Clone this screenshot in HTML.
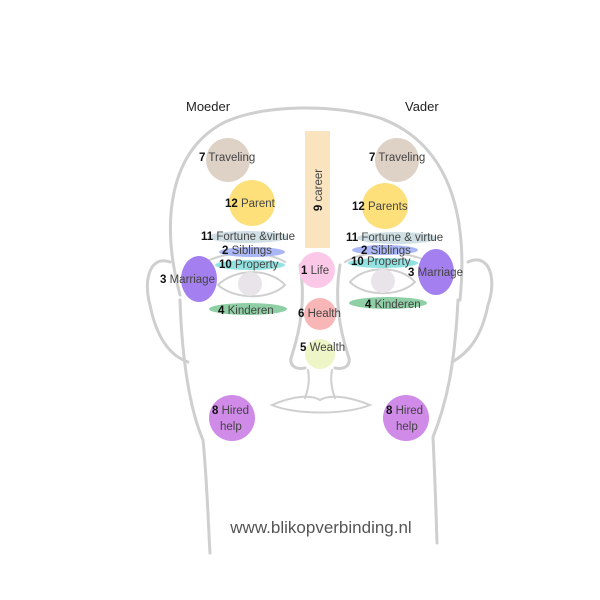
<!DOCTYPE html>
<html><head><meta charset="utf-8"><style>
html,body{margin:0;padding:0;background:#fff;width:600px;height:600px;overflow:hidden}
svg{display:block}
text{font-family:"Liberation Sans",sans-serif;font-size:11.5px;fill:#444}
.b{font-weight:bold;fill:#111}
</style></head><body>
<svg width="600" height="600" viewBox="0 0 600 600" xmlns="http://www.w3.org/2000/svg">
<g fill="none" stroke="#cfcfcf" stroke-width="3" stroke-linecap="round">
<path d="M180,295 C160,220 170,150 225,122 C265,104 335,104 380,118 C440,140 470,200 460,300"/>
<path d="M180,300 C182,360 190,410 203,440 C207,480 208,520 210,553"/>
<path d="M458,300 C455,360 448,400 433,437 C435,480 436,510 437,543"/>
<path d="M170,262 C150,255 143,280 150,305 C156,335 168,355 188,362"/>
<path d="M468,262 C490,252 497,280 488,305 C482,335 470,352 452,362"/>
<path d="M218,285 C235,268 270,268 285,285 C270,300 235,300 218,285Z" stroke-width="2"/>
<path d="M350,282 C365,265 400,265 415,282 C400,297 365,297 350,282Z" stroke-width="2"/>
<path d="M205,262 C230,250 265,250 285,262" stroke-width="2"/>
<path d="M345,262 C365,250 400,250 425,260" stroke-width="2"/>
<path d="M300,265 C306,300 300,330 292,355 C288,365 295,370 305,368"/>
<path d="M340,265 C334,300 340,330 348,355 C352,365 345,370 335,368"/>
<path d="M308,370 C310,380 308,390 305,398" stroke-width="2"/>
<path d="M332,370 C330,380 332,390 335,398" stroke-width="2"/>
<path d="M272,405 C295,395 312,395 320,400 C328,395 345,395 370,405 C345,415 295,415 272,405Z" stroke-width="2"/>
</g>
<circle cx="250" cy="284" r="12" fill="#e8e4ea"/>
<circle cx="383" cy="281" r="12" fill="#e8e4ea"/>
<rect x="305" y="131" width="25" height="117" fill="#f9e4bf"/>
<circle cx="228" cy="160" r="22" fill="#ded1c6"/>
<circle cx="397" cy="160" r="22" fill="#ded1c6"/>
<circle cx="252" cy="203" r="23" fill="#fde07a"/>
<circle cx="385" cy="206" r="23" fill="#fde07a"/>
<ellipse cx="248" cy="237" rx="40" ry="6" fill="#cfdfe4"/>
<ellipse cx="397" cy="238" rx="40" ry="6" fill="#cfdfe4"/>
<ellipse cx="252" cy="252" rx="33" ry="5" fill="#aab6f6"/>
<ellipse cx="385" cy="250" rx="33" ry="5" fill="#aab6f6"/>
<ellipse cx="250" cy="265" rx="35" ry="5" fill="#93e2e2"/>
<ellipse cx="383" cy="263" rx="35" ry="5" fill="#93e2e2"/>
<ellipse cx="199" cy="279" rx="18" ry="23" fill="#a47ff0"/>
<ellipse cx="436" cy="272" rx="18" ry="23" fill="#a47ff0"/>
<ellipse cx="248" cy="309" rx="39" ry="6" fill="#8fcfa5"/>
<ellipse cx="388" cy="303" rx="39" ry="6" fill="#8fcfa5"/>
<circle cx="317" cy="270" r="18" fill="#fbc8e8"/>
<circle cx="320" cy="314" r="16" fill="#f8b6b6"/>
<circle cx="320" cy="354" r="15" fill="#eef5c6"/>
<circle cx="232" cy="418" r="23" fill="#d08ae8"/>
<circle cx="406" cy="418" r="23" fill="#d08ae8"/>
<text x="186" y="111" style="font-size:13px;fill:#222">Moeder</text>
<text x="405" y="111" style="font-size:13px;fill:#222">Vader</text>
<text x="199" y="161"><tspan class="b">7</tspan> Traveling</text>
<text x="369" y="161"><tspan class="b">7</tspan> Traveling</text>
<text x="225" y="207"><tspan class="b">12</tspan> Parent</text>
<text x="352" y="210"><tspan class="b">12</tspan> Parents</text>
<text x="201" y="240"><tspan class="b">11</tspan> Fortune &amp;virtue</text>
<text x="346" y="241"><tspan class="b">11</tspan> Fortune &amp; virtue</text>
<text x="222" y="254"><tspan class="b">2</tspan> Siblings</text>
<text x="361" y="254"><tspan class="b">2</tspan> Siblings</text>
<text x="219" y="268"><tspan class="b">10</tspan> Property</text>
<text x="351" y="265"><tspan class="b">10</tspan> Property</text>
<text x="160" y="283"><tspan class="b">3</tspan> Marriage</text>
<text x="408" y="276"><tspan class="b">3</tspan> Marriage</text>
<text x="218" y="314"><tspan class="b">4</tspan> Kinderen</text>
<text x="365" y="308"><tspan class="b">4</tspan> Kinderen</text>
<text x="301" y="274"><tspan class="b">1</tspan> Life</text>
<text x="298" y="317"><tspan class="b">6</tspan> Health</text>
<text x="300" y="351"><tspan class="b">5</tspan> Wealth</text>
<text x="212" y="414"><tspan class="b">8</tspan> Hired</text>
<text x="220" y="430">help</text>
<text x="386" y="414"><tspan class="b">8</tspan> Hired</text>
<text x="396" y="430">help</text>
<text transform="translate(322,190) rotate(-90)" text-anchor="middle"><tspan class="b">9</tspan> career</text>
<text x="321" y="533" text-anchor="middle" style="font-size:17px;fill:#555">www.blikopverbinding.nl</text>
</svg>
</body></html>
